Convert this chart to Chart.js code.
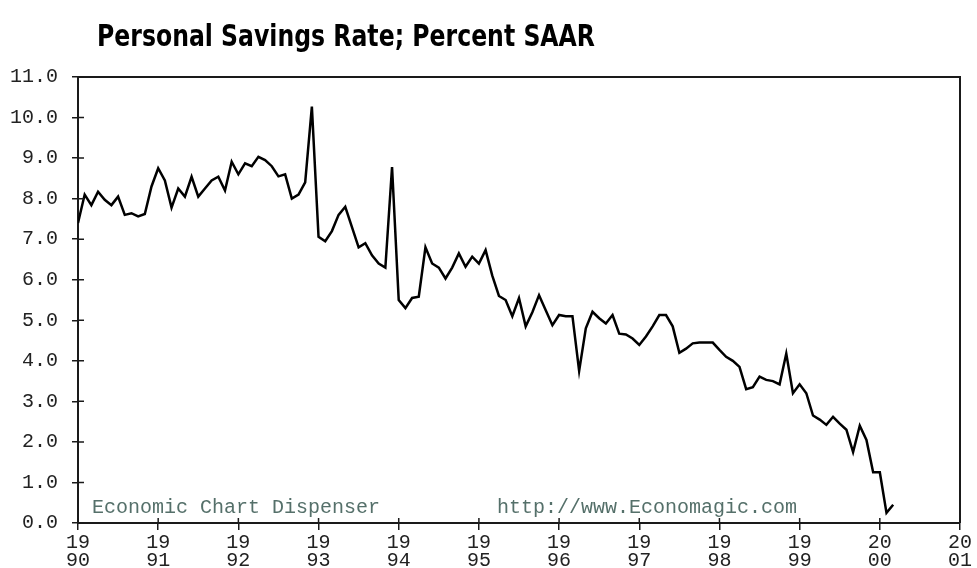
<!DOCTYPE html>
<html>
<head>
<meta charset="utf-8">
<title>Personal Savings Rate; Percent SAAR</title>
<script src="https://cdn.jsdelivr.net/npm/chart.js@4.4.0/dist/chart.umd.min.js"></script>
<style>
    html, body { margin: 0; padding: 0; background: #fff; }
    #wrap { width: 977px; height: 568px; }
</style>
</head>
<body>
<div id="wrap"><canvas id="chartSavings" width="977" height="568"></canvas></div>
<script>
// Personal savings rate, percent SAAR, monthly values
const rate1990 = [7.4, 8.1, 7.84, 8.17, 7.97, 7.84, 8.05, 7.6, 7.64, 7.56, 7.62, 8.3];
const rate1991 = [8.75, 8.45, 7.78, 8.25, 8.05, 8.54, 8.05, 8.25, 8.45, 8.54, 8.2, 8.91];
const rate1992 = [8.6, 8.87, 8.8, 9.03, 8.95, 8.8, 8.55, 8.6, 8.0, 8.1, 8.4, 10.27];
const rate1993 = [7.06, 6.95, 7.2, 7.6, 7.8, 7.3, 6.8, 6.9, 6.6, 6.4, 6.3, 8.78];
const rate1994 = [5.5, 5.3, 5.55, 5.58, 6.8, 6.4, 6.3, 6.03, 6.3, 6.65, 6.32, 6.57];
const rate1995 = [6.4, 6.73, 6.1, 5.6, 5.5, 5.1, 5.55, 4.85, 5.2, 5.62, 5.25, 4.88];
const rate1996 = [5.13, 5.1, 5.1, 3.75, 4.8, 5.21, 5.05, 4.92, 5.13, 4.67, 4.65, 4.55];
const rate1997 = [4.39, 4.6, 4.85, 5.13, 5.13, 4.85, 4.2, 4.3, 4.43, 4.45, 4.45, 4.45];
const rate1998 = [4.27, 4.1, 4.0, 3.85, 3.3, 3.35, 3.61, 3.53, 3.5, 3.42, 4.18, 3.2];
const rate1999 = [3.42, 3.2, 2.65, 2.55, 2.42, 2.62, 2.45, 2.3, 1.75, 2.4, 2.05, 1.25];
const rate2000 = [1.25, 0.25, 0.45];

// Tick labels: one per year on the x axis
const yearTicks = ['1990', '1991', '1992', '1993', '1994', '1995',
                   '1996', '1997', '1998', '1999', '2000', '2001'];

const titleText = 'Personal Savings Rate; Percent SAAR';
const creditLeft = 'Economic Chart Dispenser';
const creditRight = 'http://www.Economagic.com';

const savings = [].concat(rate1990, rate1991, rate1992, rate1993, rate1994,
    rate1995, rate1996, rate1997, rate1998, rate1999, rate2000);
const points = savings.map((v, i) => ({ x: i, y: v }));

const axisColor = '#1a1a1a';
const monoFont = "'Liberation Mono', 'DejaVu Sans Mono', monospace";

// Marco, marcas interiores, titulo y creditos
const decorPlugin = {
    id: 'decor',
    afterDatasetsDraw(chart) {
        const ctx = chart.ctx;
        const area = chart.chartArea;
        const xs = chart.scales.x;
        const ys = chart.scales.y;
        ctx.save();
        ctx.strokeStyle = axisColor;
        ctx.lineWidth = 2;
        ctx.beginPath();
        ctx.moveTo(area.left, area.top);
        ctx.lineTo(area.right, area.top);
        ctx.lineTo(area.right, area.bottom);
        ctx.stroke();

        ctx.lineWidth = 1.5;
        ctx.beginPath();
        ys.ticks.forEach(t => {
            const y = ys.getPixelForValue(t.value);
            ctx.moveTo(area.left, y);
            ctx.lineTo(area.left + 6, y);
        });
        xs.ticks.forEach(t => {
            const x = xs.getPixelForValue(t.value);
            ctx.moveTo(x, area.bottom);
            ctx.lineTo(x, area.bottom - 5);
        });
        ctx.stroke();

        ctx.fillStyle = '#55706a';
        ctx.font = '20px ' + monoFont;
        ctx.textBaseline = 'alphabetic';
        ctx.textAlign = 'left';
        ctx.fillText(creditLeft, 92, 513);
        ctx.fillText(creditRight, 497, 513);

        // titulo estrecho: se comprime a lo ancho del original
        ctx.fillStyle = '#000';
        ctx.font = "bold 30px 'Liberation Sans Narrow', 'Arial Narrow', 'DejaVu Sans Condensed', sans-serif";
        const w = ctx.measureText(titleText).width;
        ctx.translate(97, 46);
        ctx.scale(498 / w, 1);
        ctx.fillText(titleText, 0, 0);
        ctx.restore();
    }
};

new Chart(document.getElementById('chartSavings'), {
    type: 'line',
    data: {
        datasets: [{
            data: points,
            borderColor: '#000',
            borderWidth: 2.5,
            pointRadius: 0,
            tension: 0,
            fill: false
        }]
    },
    options: {
        responsive: false,
        animation: false,
        layout: { padding: { top: 77, right: 17, left: 0, bottom: 0 } },
        plugins: {
            legend: { display: false },
            tooltip: { enabled: false }
        },
        scales: {
            x: {
                type: 'linear',
                min: 0,
                max: 132,
                afterFit(scale) { scale.height = 45; },
                grid: {
                    drawOnChartArea: false,
                    drawTicks: true,
                    tickLength: 7,
                    color: axisColor,
                    lineWidth: 1.5
                },
                border: { color: axisColor, width: 2 },
                ticks: {
                    stepSize: 12,
                    autoSkip: false,
                    maxRotation: 0,
                    padding: 4,
                    color: '#222',
                    font: { family: monoFont, size: 20, lineHeight: 0.9 },
                    callback(value) {
                        const label = yearTicks[Math.round(value / 12)];
                        return label ? [label.slice(0, 2), label.slice(2)] : '';
                    }
                }
            },
            y: {
                min: 0,
                max: 11,
                afterFit(scale) { scale.width = 78; },
                grid: {
                    drawOnChartArea: false,
                    drawTicks: true,
                    tickLength: 6,
                    color: axisColor,
                    lineWidth: 1.5
                },
                border: { color: axisColor, width: 2 },
                ticks: {
                    stepSize: 1,
                    padding: 14,
                    color: '#222',
                    font: { family: monoFont, size: 20 },
                    callback(value) { return value.toFixed(1); }
                }
            }
        }
    },
    plugins: [decorPlugin]
});
</script>
</body>
</html>
